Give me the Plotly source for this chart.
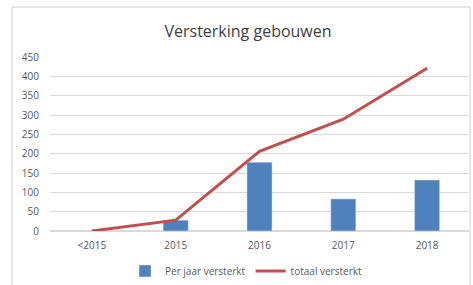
import plotly.graph_objects as go

categories = ["<2015", "2015", "2016", "2017", "2018"]
per_jaar = [None, 28, 178, 83, 132]
totaal = [0, 28, 206, 289, 421]
y_ticks = [0, 50, 100, 150, 200, 250, 300, 350, 400, 450]

fig = go.Figure()
fig.add_trace(go.Bar(x=categories, y=per_jaar, name="Per jaar versterkt",
                     marker_color="#4f81bd", width=0.3))
fig.add_trace(go.Scatter(x=categories, y=totaal, name="totaal versterkt",
                         mode="lines", line=dict(color="#c0504d", width=3)))

L, R, T, B = 50, 4, 57, 54
W, H = 473, 285
pw, ph = W - L - R, H - T - B

fig.update_layout(
    width=W, height=H,
    margin=dict(l=L, r=R, t=T, b=B),
    paper_bgcolor="white", plot_bgcolor="white",
    font=dict(family="Open Sans, Noto Sans, sans-serif", color="#595959", size=10),
    title=dict(text="Versterking gebouwen", x=248 / W, xref="container", xanchor="center",
               y=1 - 31 / H, yanchor="middle",
               font=dict(size=16, color="#404040")),
    showlegend=True,
    legend=dict(orientation="h", x=(246 - L) / pw, xanchor="center",
                yref="container", y=1 - 271 / H,
                yanchor="middle", font=dict(size=10, color="#595959"),
                itemwidth=30),
    xaxis=dict(showgrid=False, showline=False, ticks="", tickfont=dict(size=10),
               ticklabelstandoff=7),
    yaxis=dict(range=[0, 450], tickvals=y_ticks, showgrid=True, gridcolor="#d9d9d9",
               gridwidth=1, zeroline=True, zerolinecolor="#d9d9d9", showline=False,
               ticks="", tickfont=dict(size=10), ticklabelstandoff=10),
    bargap=0.7,
    shapes=[dict(type="rect", xref="paper", yref="paper",
                 x0=(12 - L) / pw, x1=(470 - L) / pw,
                 y0=-(300 - 231) / ph, y1=(231 - 7) / ph,
                 line=dict(color="#d0d0d0", width=1), fillcolor="rgba(0,0,0,0)",
                 layer="below")],
)
fig.write_html("out.html", config={"displayModeBar": False},
               post_script="document.body.style.margin='0';document.body.style.overflow='hidden';")
